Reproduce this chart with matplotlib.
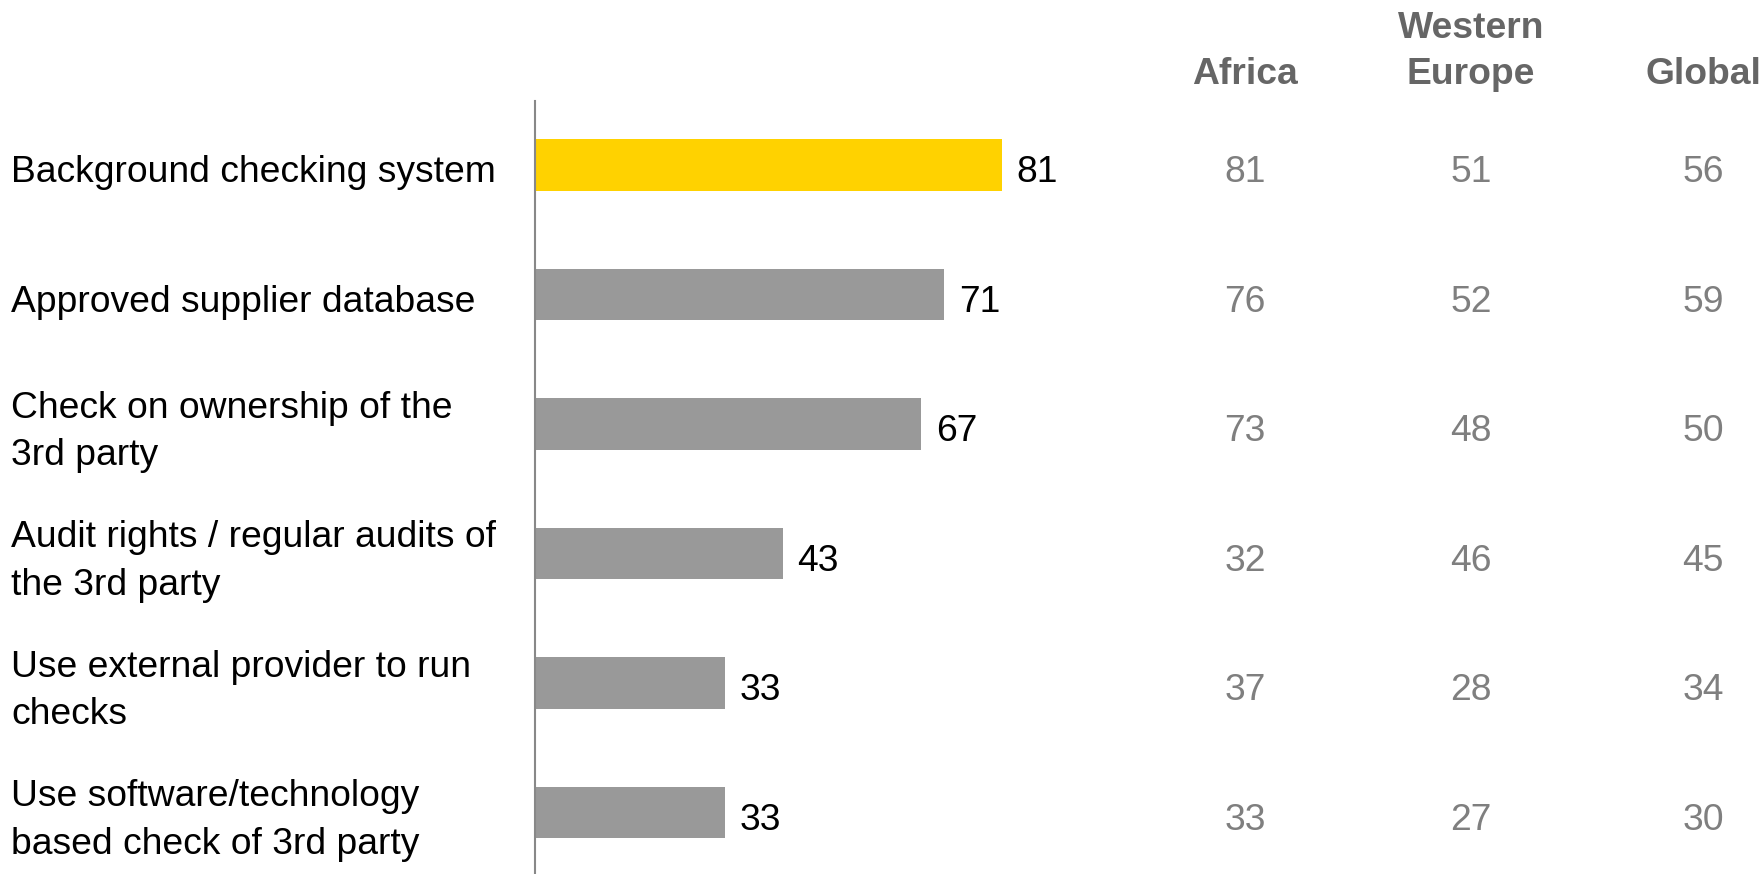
import matplotlib
matplotlib.use("Agg")
import matplotlib.pyplot as plt
from matplotlib.transforms import blended_transform_factory, offset_copy

plt.rcParams['font.family'] = ['Liberation Sans', 'DejaVu Sans']

categories = [
    "Background checking system",
    "Approved supplier database",
    "Check on ownership of the\n3rd party",
    "Audit rights / regular audits of\nthe 3rd party",
    "Use external provider to run\nchecks",
    "Use software/technology\nbased check of 3rd party",
]
values = [81, 71, 67, 43, 33, 33]
regions = ["Africa", "Western\nEurope", "Global"]
africa = [81, 76, 73, 32, 37, 33]
western_europe = [51, 52, 48, 46, 28, 27]
global_vals = [56, 59, 50, 45, 34, 30]

W, H = 1761, 874
fig = plt.figure(figsize=(W / 100, H / 100), dpi=100)

ax_left = 534.6 / W
ax = fig.add_axes([ax_left, 0, 1 - ax_left, (874 - 101) / H])
px_per_unit = 5.766
ax.set_xlim(0, (W - 534.6) / px_per_unit)
spacing = 129.5
ax.set_ylim((874 - 165) / spacing, (101 - 165) / spacing)

colors = ["#FFD200"] + ["#999999"] * (len(values) - 1)
ypos = list(range(len(values)))
ax.barh(ypos, values, height=0.40, color=colors)

fs = 26.8
dy = -8  # pixels shift down
t_data = offset_copy(ax.transData, fig=fig, x=0, y=dy, units='dots')
for y, v in zip(ypos, values):
    ax.text(v + 15 / px_per_unit, y, str(v), va="center", ha="left",
            fontsize=fs, color="black", transform=t_data)

for s in ["top", "right", "bottom"]:
    ax.spines[s].set_visible(False)
ax.spines["left"].set_color("#888888")
ax.spines["left"].set_linewidth(1.5)
ax.set_xticks([])
ax.set_yticks([])

trans_lab = offset_copy(blended_transform_factory(fig.transFigure, ax.transData),
                        fig=fig, x=0, y=dy, units='dots')
for y, c in zip(ypos, categories):
    ax.text(11 / W, y, c, transform=trans_lab, ha="left", va="center",
            fontsize=fs, color="black", linespacing=1.45)

col_x = [1245 / W, 1471 / W, 1703 / W]
cols = [africa, western_europe, global_vals]
for cx, name, vals in zip(col_x, regions, cols):
    fig.text(cx, 1 - 75 / H, name.split("\n")[-1], ha="center", va="center",
             fontsize=fs, fontweight="bold", color="#666666")
    if "\n" in name:
        fig.text(cx, 1 - 29 / H, name.split("\n")[0], ha="center", va="center",
                 fontsize=fs, fontweight="bold", color="#666666")
    for y, v in zip(ypos, vals):
        ax.text(cx, y, str(v), transform=trans_lab, ha="center", va="center",
                fontsize=fs, color="#7F7F7F")

fig.savefig("out.png", dpi=100)
